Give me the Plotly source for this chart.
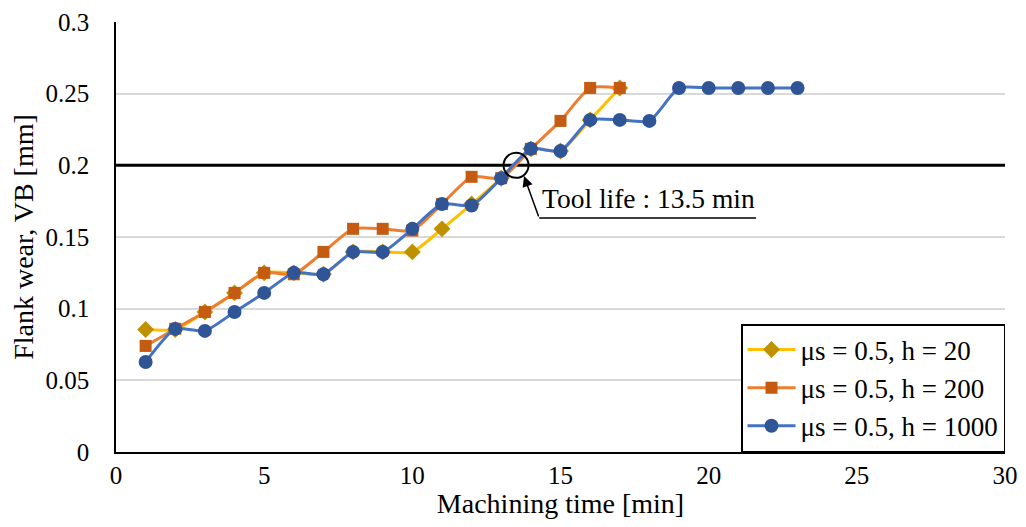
import plotly.graph_objects as go

time_h20 = list(range(1, 18))
vb_h20 = [0.0855, 0.0855, 0.0977, 0.111, 0.125, 0.125, 0.124, 0.1396, 0.1396, 0.1396,
          0.1557, 0.173, 0.191, 0.2115, 0.21, 0.2317, 0.254]

time_h200 = list(range(1, 18))
vb_h200 = [0.074, 0.086, 0.0977, 0.111, 0.125, 0.124, 0.1396, 0.1557, 0.1557, 0.1545,
           0.173, 0.192, 0.191, 0.2115, 0.231, 0.254, 0.254]

time_h1000 = list(range(1, 24))
vb_h1000 = [0.0628, 0.0859, 0.0845, 0.0977, 0.111, 0.125, 0.124, 0.1396, 0.1396, 0.1557,
            0.173, 0.172, 0.191, 0.2115, 0.21, 0.2317, 0.2317, 0.231, 0.254, 0.254,
            0.254, 0.254, 0.254]

vb_limit = 0.2
tool_life = 13.5
x_range = [0, 30]
y_range = [0, 0.3]

FONT = "Liberation Serif"

fig = go.Figure()

fig.add_trace(go.Scatter(x=x_range, y=[vb_limit, vb_limit], mode="lines",
                         line=dict(color="black", width=3), showlegend=False, hoverinfo="skip"))

fig.add_trace(go.Scatter(x=time_h20, y=vb_h20, mode="lines+markers", name="μs = 0.5, h = 20",
                         line=dict(color="#FFC000", width=3, shape="spline", smoothing=0.6),
                         marker=dict(symbol="diamond", size=13, color="#BF9000")))
fig.add_trace(go.Scatter(x=time_h200, y=vb_h200, mode="lines+markers", name="μs = 0.5, h = 200",
                         line=dict(color="#ED7D31", width=3, shape="spline", smoothing=0.6),
                         marker=dict(symbol="square", size=12, color="#C55A11")))
fig.add_trace(go.Scatter(x=time_h1000, y=vb_h1000, mode="lines+markers", name="μs = 0.5, h = 1000",
                         line=dict(color="#4472C4", width=3, shape="spline", smoothing=0.6),
                         marker=dict(symbol="circle", size=14, color="#2F5597")))

fig.add_trace(go.Scatter(x=[tool_life], y=[vb_limit], mode="markers", showlegend=False,
                         marker=dict(symbol="circle-open", size=25, color="black",
                                     line=dict(width=2, color="black")), hoverinfo="skip"))

# callout arrow
fig.add_annotation(x=13.77, y=0.1925, ax=14.28, ay=0.1633, axref="x", ayref="y",
                   xref="x", yref="y", text="", showarrow=True, arrowhead=2,
                   arrowsize=1.4, arrowwidth=1.5, arrowcolor="black")
fig.add_shape(type="line", x0=14.28, x1=21.6, y0=0.1633, y1=0.1633, xref="x", yref="y",
              line=dict(color="black", width=1.5))
fig.add_annotation(x=14.3, y=0.1645, xref="x", yref="y", xanchor="left", yanchor="bottom",
                   text=f"Tool life : {tool_life} min", showarrow=False,
                   font=dict(family=FONT, size=27.5, color="black"))

fig.update_layout(
    width=1010, height=511,
    margin=dict(l=108, r=13, t=14, b=67),
    plot_bgcolor="white", paper_bgcolor="white",
    font=dict(family=FONT, size=25, color="black"),
    legend=dict(x=1, y=0, xanchor="right", yanchor="bottom", bordercolor="black",
                borderwidth=1.5, bgcolor="white", font=dict(family=FONT, size=27),
                itemwidth=48, tracegroupgap=0),
    xaxis=dict(range=x_range, dtick=5, showgrid=False, zeroline=False, automargin=False,
               showline=True, linecolor="black", linewidth=1.5,
               title=dict(text="Machining time [min]", standoff=15,
                          font=dict(family=FONT, size=28)),
               ticks="", tickfont=dict(family=FONT, size=25)),
    yaxis=dict(range=y_range, dtick=0.05, showgrid=True, gridcolor="#D9D9D9", gridwidth=1.5,
               zeroline=False, showline=True, linecolor="black", linewidth=1.5, automargin=False,
               ticklabelstandoff=20,
               title=dict(text="Flank wear, VB [mm]", standoff=8,
                          font=dict(family=FONT, size=28)),
               ticks="", tickfont=dict(family=FONT, size=25)),
)

fig.write_html("out.html")
